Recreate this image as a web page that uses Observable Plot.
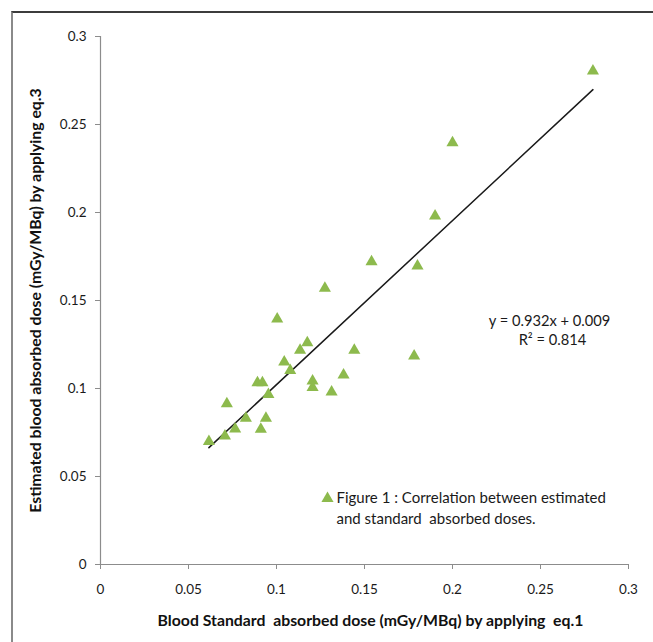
<!DOCTYPE html>
<html><head><meta charset="utf-8">
<script src="https://cdn.jsdelivr.net/npm/d3@7"></script>
<script src="https://cdn.jsdelivr.net/npm/@observablehq/plot@0.6"></script>
<style>
html,body{margin:0;padding:0;background:#fff;}
#wrap{position:relative;width:653px;height:642px;overflow:hidden;}
#frame{position:absolute;left:11px;top:11px;width:700px;height:700px;border-top:2px solid #3c3c3c;border-left:2px solid #8a8a8a;}
#chart{position:absolute;left:0;top:0;}
#chart svg text{white-space:pre;}
</style></head><body>
<div id="wrap"><div id="frame"></div><div id="chart"></div></div>
<script>
const standardDose = [0.0616,0.0707,0.0718,0.0765,0.0826,0.0911,0.0940,0.0892,0.0920,0.0954,0.1004,0.1044,0.1078,0.1134,0.1175,0.1205,0.1205,0.1313,0.1381,0.1442,0.1275,0.1540,0.1801,0.1782,0.1901,0.2000,0.2798];
const estimatedDose = [0.0699,0.0730,0.0914,0.0770,0.0831,0.0768,0.0831,0.1033,0.1033,0.0966,0.1395,0.1151,0.1102,0.1217,0.1260,0.1043,0.1005,0.0980,0.1077,0.1218,0.1569,0.1720,0.1696,0.1185,0.1980,0.2397,0.2804];
const xTicks = [0,0.05,0.1,0.15,0.2,0.25,0.3];
const xTickLabels = ["0","0.05","0.1","0.15","0.2","0.25","0.3"];
const yTicks = [0,0.05,0.1,0.15,0.2,0.25,0.3];
const yTickLabels = ["0","0.05","0.1","0.15","0.2","0.25","0.3"];
const trendX = [0.0616,0.2798];
const trendY = [0.0664,0.2698];
const equationLines = ["y = 0.932x + 0.009","R\u00b2 = 0.814"];
const legendLines = ["Figure 1 : Correlation between estimated","and standard  absorbed doses."];
const xTitle = "Blood Standard  absorbed dose (mGy/MBq) by applying  eq.1";
const yTitle = "Estimated blood absorbed dose (mGy/MBq) by applying eq.3";

const points = standardDose.map((x,i)=>({x, y: estimatedDose[i]}));
const trend = trendX.map((x,i)=>({x, y: trendY[i]}));
const green = "#8dba4d";
const axisGray = "#8c8c8c";
const font = "Lato, sans-serif";

const chart = Plot.plot({
  width:653, height:642,
  marginLeft:100, marginRight:25, marginTop:36, marginBottom:78,
  style:{fontFamily:font, background:"transparent", overflow:"visible"},
  x:{domain:[0,0.3]},
  y:{domain:[0,0.3]},
  marks:[
    Plot.ruleY([0],{stroke:axisGray, strokeWidth:1.2}),
    Plot.ruleX([0],{stroke:axisGray, strokeWidth:1.2}),
    Plot.axisX({ticks:xTicks, tickFormat:d=>xTickLabels[xTicks.indexOf(d)], tickSize:5, tickPadding:15, stroke:axisGray, fill:"#1a1a1a", fontSize:13.5, label:null}),
    Plot.axisY({ticks:yTicks, tickFormat:d=>yTickLabels[yTicks.indexOf(d)], tickSize:5, tickPadding:9, stroke:axisGray, fill:"#1a1a1a", fontSize:13.5, label:null}),
    Plot.line(trend,{x:"x", y:"y", stroke:"#1a1a1a", strokeWidth:1.5}),
    Plot.dot(points,{x:"x", y:"y", symbol:"triangle", r:4.5, fill:green}),
    Plot.text([equationLines[0]],{frameAnchor:"top-left", dx:449, dy:285, text:d=>d, textAnchor:"middle", lineAnchor:"middle", fontSize:14.7, fill:"#1a1a1a"}),
    Plot.text([equationLines[1]],{frameAnchor:"top-left", dx:452, dy:304, text:d=>d, textAnchor:"middle", lineAnchor:"middle", fontSize:14.7, fill:"#1a1a1a"}),
    Plot.dot([legendLines[0]],{frameAnchor:"top-left", dx:227, dy:462, symbol:"triangle", r:4.5, fill:green}),
    Plot.text([legendLines[0]],{frameAnchor:"top-left", dx:236, dy:462, text:d=>d, textAnchor:"start", lineAnchor:"middle", fontSize:15, fill:"#1a1a1a"}),
    Plot.text([legendLines[1]],{frameAnchor:"top-left", dx:236, dy:483, text:d=>d, textAnchor:"start", lineAnchor:"middle", fontSize:15, fill:"#1a1a1a"}),
    Plot.text([xTitle],{frameAnchor:"bottom", dx:6, dy:56.5, text:d=>d, textAnchor:"middle", lineAnchor:"middle", fontSize:15.8, fontWeight:"bold", fill:"#111"}),
    Plot.text([yTitle],{frameAnchor:"left", dx:-65, text:d=>d, rotate:-90, textAnchor:"middle", lineAnchor:"middle", fontSize:15.8, fontWeight:"bold", fill:"#111"})
  ]
});
document.getElementById("chart").appendChild(chart);
</script>
</body></html>
